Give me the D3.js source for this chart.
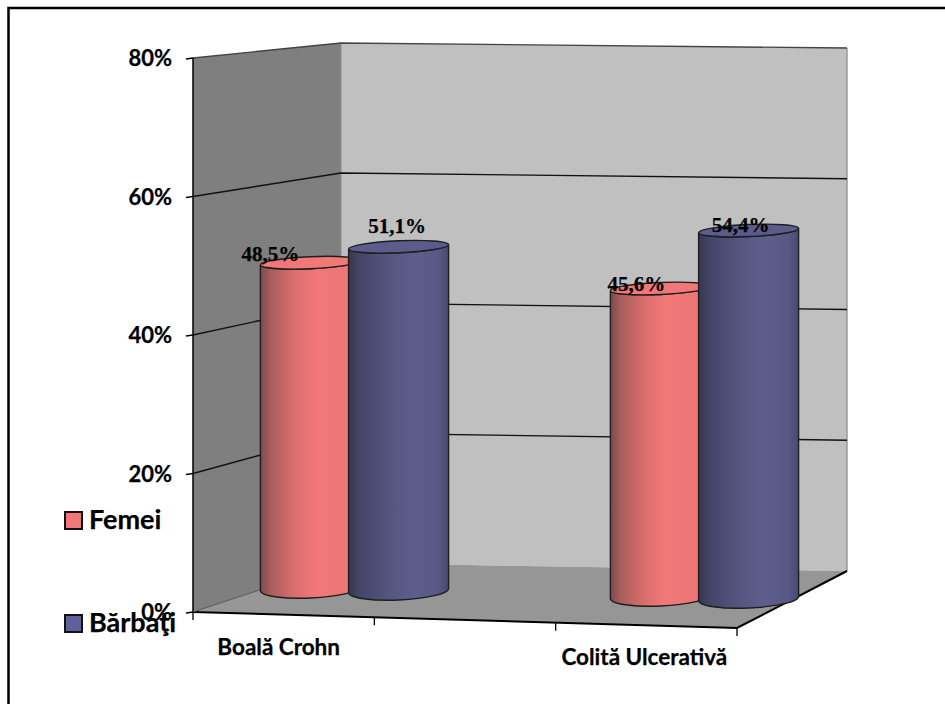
<!DOCTYPE html>
<html>
<head>
<meta charset="utf-8">
<script src="https://cdn.jsdelivr.net/npm/d3@7"></script>
<style>
  html, body { margin: 0; background: #fff; }
  svg { display: block; }
  text { stroke: #000; stroke-width: 0.25; }
  .tick-label { font: bold 22px Lato, sans-serif; fill: #000; }
  .cat-label { font: bold 22.5px Lato, sans-serif; fill: #000; }
  .legend-label { font: bold 27px Lato, sans-serif; fill: #000; }
  .value-label { font: bold 21px "Liberation Serif", serif; fill: #000; }
</style>
</head>
<body>
<svg id="chart" width="945" height="704"></svg>
<script>
const categories = ["Boală Crohn", "", "Colită Ulcerativă"];
const series = ["Femei", "Bărbaţi"];
const femei = [48.5, null, 45.6];
const barbati = [51.1, null, 54.4];
const labelsFemei = ["48,5%", "", "45,6%"];
const labelsBarbati = ["51,1%", "", "54,4%"];
const yTicks = [0, 20, 40, 60, 80];

const svg = d3.select("#chart");

// corners of the 3d box, as the chart draws them
const frontLeft = [193, 612], frontRight = [737, 628];
const backLeft = [341, 563], backRight = [847, 571];
const heightFront = [554, 560], heightBack = [520, 523];

const uScale = d3.scaleBand().domain(categories).range([0, 1]);
const seriesU = d3.scalePoint().domain(series).range([-0.084, 0.084]);
const lerp = (a, b, t) => d3.interpolateNumber(a, b)(t);

// floor point at u (along the width), v (depth), lifted by a value
function project(u, v, val) {
  const fx = lerp(frontLeft[0], frontRight[0], u), fy = lerp(frontLeft[1], frontRight[1], u);
  const bx = lerp(backLeft[0], backRight[0], u), by = lerp(backLeft[1], backRight[1], u);
  const hf = d3.scaleLinear().domain([0, 80]).range([0, lerp(heightFront[0], heightFront[1], u)]);
  const hb = d3.scaleLinear().domain([0, 80]).range([0, lerp(heightBack[0], heightBack[1], u)]);
  return [lerp(fx, bx, v), lerp(fy, by, v) - lerp(hf(val), hb(val), v)];
}

const defs = svg.append("defs");
function gradient(id, stops) {
  defs.append("linearGradient").attr("id", id)
    .selectAll("stop").data(stops).join("stop")
    .attr("offset", d => d[0]).attr("stop-color", d => d[1]);
}
gradient("gradFemei", [[0, "#7d4a4a"], [0.1, "#a85d5d"], [0.35, "#dc6e6e"], [0.55, "#f27878"], [1, "#ea7474"]]);
gradient("gradBarbati", [[0, "#37374f"], [0.12, "#45456a"], [0.4, "#55557f"], [0.65, "#5e5e8e"], [0.9, "#585886"], [1, "#484870"]]);

function poly(points, fill) {
  return svg.append("polygon").attr("points", points.map(p => p.join(",")).join(" ")).attr("fill", fill);
}

// walls and floor
poly([project(0, 0, 0), project(0, 1, 0), project(0, 1, 80), project(0, 0, 80)], "#7f7f7f");
poly([project(0, 1, 0), project(1, 1, 0), project(1, 1, 80), project(0, 1, 80)], "#c0c0c0");
poly([project(0, 0, 0), project(0, 1, 0), project(1, 1, 0), project(1, 0, 0)], "#969696");

const grid = d3.line();
svg.append("path").attr("d", grid([project(1, 1, 0), project(1, 1, 80)]))
  .attr("fill", "none").attr("stroke", "#9a9a9a").attr("stroke-width", 1.5);
svg.append("path").attr("d", grid([project(0, 1, 0), project(0, 1, 80)]))
  .attr("fill", "none").attr("stroke", "#8c8c8c").attr("stroke-width", 1);

// gridlines
svg.append("g").selectAll("path").data(yTicks.filter(d => d > 0)).join("path")
  .attr("d", d => grid([project(0, 0, d), project(0, 1, d), project(1, 1, d)]))
  .attr("fill", "none").attr("stroke", d => d == 80 ? "#444" : "#111").attr("stroke-width", 1.4);

// axes lines and ticks
const axis = svg.append("g").attr("stroke", "#000").attr("fill", "none");
axis.append("path").attr("stroke-width", 1.5).attr("d", grid([project(0, 0, 80), project(0, 0, 0)]));
axis.append("path").attr("stroke-width", 2).attr("d", grid([project(0, 0, 0), project(1, 0, 0), project(1, 1, 0)]));
axis.append("path").attr("stroke-width", 1).attr("stroke", "#555").attr("d", grid([project(0, 0, 0), project(0, 1, 0)]));
axis.selectAll(".ytick").data(yTicks).join("path").attr("class", "ytick").attr("stroke-width", 1.3)
  .attr("d", d => { const p = project(0, 0, d); return grid([[p[0] - 7, p[1] + 1], p]); });
const xTickAt = d3.range(0, categories.length + 1).map(i => i / categories.length);
axis.selectAll(".xtick").data(xTickAt).join("path").attr("class", "xtick").attr("stroke-width", 1.3)
  .attr("d", d => { const p = project(d, 0, 0); return grid([p, [p[0], p[1] + 8]]); });

svg.append("g").selectAll("text").data(yTicks).join("text").attr("class", "tick-label")
  .attr("text-anchor", "end")
  .attr("x", d => project(0, 0, d)[0] - 21)
  .attr("y", d => project(0, 0, d)[1] + 8)
  .text(d => d + "%");

// cylinders
const depth = 0.5, rx = 50;
function cylinder(cat, name, val, grad, top) {
  if (val == null) return;
  const u = uScale(cat) + uScale.bandwidth() / 2 + seriesU(name);
  const b = project(u, depth, 0), t = project(u, depth, val);
  const rb = 9.5, rt = 6, tilt = -2.5;
  const dy = rx * Math.sin(tilt * Math.PI / 180);
  const g = svg.append("g").attr("stroke", "#1e1e1e").attr("stroke-width", 1.4);
  g.append("path").attr("fill", `url(#${grad})`)
    .attr("d", `M${t[0] - rx},${t[1] - dy} L${b[0] - rx},${b[1] - dy}
      A${rx},${rb} ${tilt} 0 0 ${b[0] + rx},${b[1] + dy}
      L${t[0] + rx},${t[1] + dy} A${rx},${rt} ${tilt} 0 1 ${t[0] - rx},${t[1] - dy} Z`);
  g.append("ellipse").attr("cx", t[0]).attr("cy", t[1]).attr("rx", rx).attr("ry", rt)
    .attr("transform", `rotate(${tilt} ${t[0]} ${t[1]})`).attr("fill", top);
}
categories.forEach((c, i) => {
  cylinder(c, series[0], femei[i], "gradFemei", "#f27878");
  cylinder(c, series[1], barbati[i], "gradBarbati", "#5b5b8c");
});

// value labels, nudged one by one like the source chart
const nudgeFemei = [[-40, -2], null, [-24, 3]];
const nudgeBarbati = [[-1.5, -14], null, [-8, 1]];
function valueLabels(name, vals, labels, nudge) {
  categories.forEach((c, i) => {
    if (vals[i] == null) return;
    const u = uScale(c) + uScale.bandwidth() / 2 + seriesU(name);
    const t = project(u, depth, vals[i]);
    svg.append("text").attr("class", "value-label").attr("text-anchor", "middle")
      .attr("x", t[0] + nudge[i][0]).attr("y", t[1] + nudge[i][1]).text(labels[i]);
  });
}
valueLabels(series[0], femei, labelsFemei, nudgeFemei);
valueLabels(series[1], barbati, labelsBarbati, nudgeBarbati);

// category labels
const catNudge = [-5, 0, -2];
svg.append("g").selectAll("text").data(categories).join("text").attr("class", "cat-label")
  .attr("text-anchor", "middle")
  .attr("x", (d, i) => project(uScale(d) + uScale.bandwidth() / 2, 0, 0)[0] + catNudge[i])
  .attr("y", d => project(uScale(d) + uScale.bandwidth() / 2, 0, 0)[1] + 40)
  .text(d => d);

// legend
const legendY = d3.scalePoint().domain(series).range([520, 623]);
const legendFill = d3.scaleOrdinal().domain(series).range(["#f27878", "#60609a"]);
const legend = svg.append("g").selectAll("g").data(series).join("g")
  .attr("transform", d => `translate(65,${legendY(d)})`);
legend.append("rect").attr("y", -8).attr("width", 17).attr("height", 17)
  .attr("fill", d => legendFill(d)).attr("stroke", "#111").attr("stroke-width", 2);
legend.append("text").attr("class", "legend-label").attr("x", 24).attr("y", 8.5).text(d => d);

// outer frame, open on the right and at the bottom
svg.append("path").attr("d", grid([[8.5, 704], [8.5, 8], [945, 8]]))
  .attr("fill", "none").attr("stroke", "#000").attr("stroke-width", 2.5);
</script>
</body>
</html>
